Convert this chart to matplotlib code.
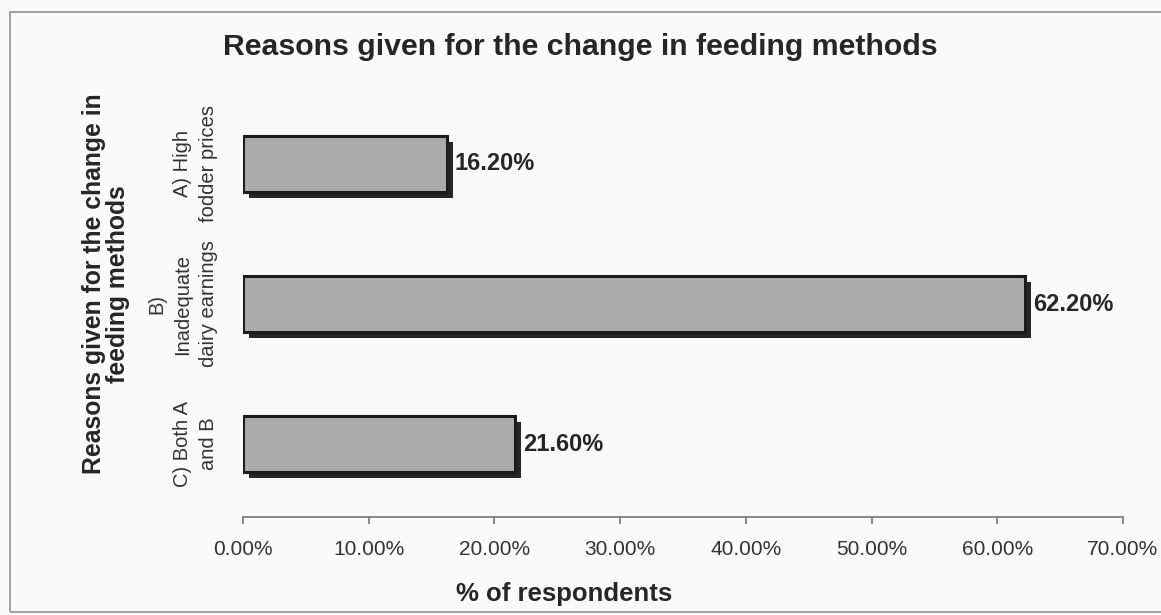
import matplotlib
matplotlib.use('Agg')
import matplotlib.pyplot as plt
from matplotlib.patches import Rectangle
from matplotlib.transforms import ScaledTranslation
from matplotlib.ticker import PercentFormatter

reasons = ['C) Both A\nand B', 'B)\nInadequate\ndairy earnings', 'A) High\nfodder prices']
shares = [21.6, 62.2, 16.2]
xticks = [0, 10, 20, 30, 40, 50, 60, 70]

plt.rcParams['font.family'] = ['Liberation Sans', 'DejaVu Sans']
text_color = '#262626'

fig = plt.figure(figsize=(11.61, 6.15), dpi=100, facecolor='#fafafa')
ax = fig.add_axes([243 / 1161, 1 - 517 / 615, 880 / 1161, 426 / 615])
ax.set_facecolor('none')

pos = list(range(len(reasons)))

# drop shadow first, shifted a few pixels right and down
shadow = ax.transData + ScaledTranslation(6 / 100, -6 / 100, fig.dpi_scale_trans)
ax.barh(pos, shares, height=0.4, color='#262626', transform=shadow, zorder=2)
ax.barh(pos, shares, height=0.4, color='#ababab', edgecolor='#1c1c1c',
        linewidth=2.2, zorder=3)

for y, v in zip(pos, shares):
    ax.annotate(f'{v:.2f}%', xy=(v, y), xytext=(6, 0), textcoords='offset points',
                va='center', ha='left', fontsize=17, fontweight='bold',
                color=text_color)

ax.set_xlim(0, 70)
ax.set_ylim(-0.52, 2.52)
ax.set_xticks(xticks)
ax.xaxis.set_major_formatter(PercentFormatter(decimals=2))
ax.set_yticks(pos)
ax.set_yticklabels(reasons, rotation=90, va='center', ha='right',
                   multialignment='center', fontsize=14.5, color='#333333',
                   linespacing=1.45)

for side in ['top', 'right', 'left']:
    ax.spines[side].set_visible(False)
ax.spines['bottom'].set_color('#777777')
ax.spines['bottom'].set_linewidth(1.2)
ax.tick_params(axis='x', length=5, width=1.2, color='#777777', pad=11.5,
               labelsize=15, labelcolor='#333333')
ax.tick_params(axis='y', length=0, pad=18)

ax.set_xlabel('% of respondents', fontsize=18.5, fontweight='bold', color=text_color)
ax.xaxis.set_label_coords(0.365, -0.153)
ax.set_ylabel('Reasons given for the change in\nfeeding methods', fontsize=17.8,
              fontweight='bold', color=text_color, linespacing=1.0)
ax.yaxis.set_label_coords(-0.128, 0.547)

fig.suptitle('Reasons given for the change in feeding methods', x=0.5,
             y=1 - 33 / 615, va='top', fontsize=21.8, fontweight='bold',
             color=text_color)

# thin frame around the chart area
fig.patches.append(Rectangle((10 / 1161, 3 / 615), 1.2, 600 / 615,
                             transform=fig.transFigure, fill=False,
                             edgecolor='#9a9a9a', linewidth=1.3))

fig.savefig('out.png', dpi=100, facecolor=fig.get_facecolor())
